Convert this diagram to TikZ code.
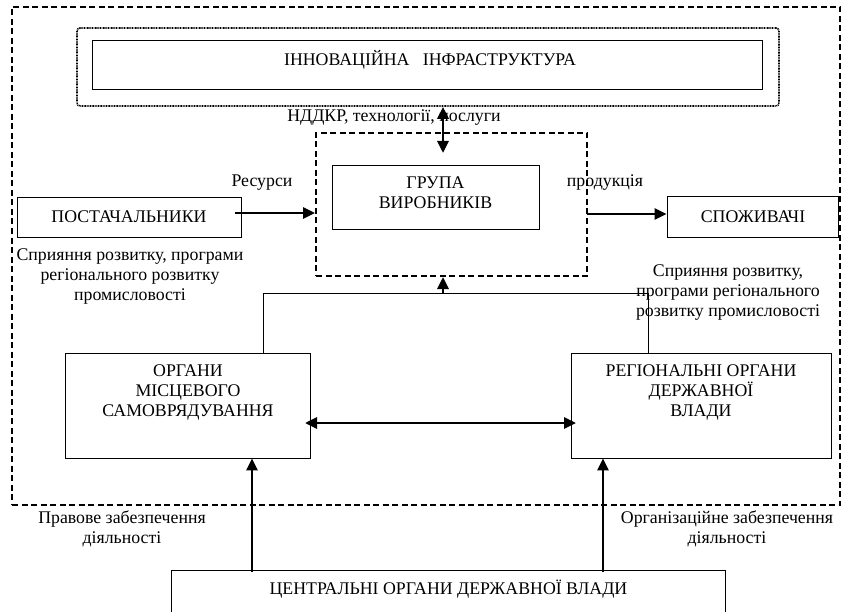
\documentclass[tikz,border=0pt]{standalone}
\usepackage{fontspec}
\setmainfont{Liberation Serif}
\usetikzlibrary{arrows.meta}
\begin{document}
\begin{tikzpicture}[x=1pt,y=-1pt,
  box/.style={draw, line width=0.9pt, inner sep=0pt},
  dashbox/.style={draw, line width=2pt, dash pattern=on 6pt off 3.5pt, inner sep=0pt},
  dotbox/.style={draw, line width=1.6pt, dash pattern=on 0.9pt off 0.7pt, rounded corners=3pt, inner sep=0pt},
  txt/.style={font=\fontsize{17.8}{20}\selectfont, align=center, inner sep=0pt},
  flow/.style={line width=2.8pt, -{Triangle[length=12pt,width=11pt]}},
  dflow/.style={line width=2.8pt, {Triangle[length=12pt,width=11pt]}-{Triangle[length=12pt,width=11pt]}},
  link/.style={line width=0.9pt}]
\useasboundingbox (0,0) rectangle (842,612);
\clip (0,0) rectangle (842,612);
% outer dashed frame
\node (outer) [dashbox, minimum width=828pt, minimum height=498pt] at (426,256) {};
% innovation infrastructure
\node (infraout) [dotbox, minimum width=702pt, minimum height=78pt] at (428,67) {};
\node (infra) [box, minimum width=670pt, minimum height=49pt] at (427,64.5) {};
\node (tinfra) [txt] at (430,60) {ІННОВАЦІЙНА\ \ \ ІНФРАСТРУКТУРА};
% producers group
\node (grpout) [dashbox, minimum width=271pt, minimum height=143pt] at (451.5,204.5) {};
\node (grp) [box, minimum width=207pt, minimum height=64pt] at (435.5,197) {};
\node (tgrp) [txt] at (435.5,193) {ГРУПА\\ВИРОБНИКІВ};
% suppliers, consumers
\node (post) [box, minimum width=224pt, minimum height=40pt] at (129,217) {};
\node (tpost) [txt] at (129,217) {ПОСТАЧАЛЬНИКИ};
\node (spoz) [box, minimum width=171pt, minimum height=41pt] at (752.5,216.5) {};
\node (tspoz) [txt] at (753,217) {СПОЖИВАЧІ};
% authorities
\node (mis) [box, minimum width=245pt, minimum height=105pt] at (187.5,405.5) {};
\node (tmis) [txt] at (188,392) {ОРГАНИ\\МІСЦЕВОГО\\САМОВРЯДУВАННЯ};
\node (reg) [box, minimum width=260pt, minimum height=105pt] at (701,405.5) {};
\node (treg) [txt] at (701,392) {РЕГІОНАЛЬНІ ОРГАНИ\\ДЕРЖАВНОЇ\\ВЛАДИ};
\node (cen) [box, minimum width=554pt, minimum height=80pt] at (448.5,610) {};
\node (tcen) [txt] at (448.5,589) {ЦЕНТРАЛЬНІ ОРГАНИ ДЕРЖАВНОЇ ВЛАДИ};
% labels
\node (lnd) [txt] at (394,118) {НДДКР, технології, послуги};
\node (lres) [txt] at (262,183) {Ресурси};
\node (lprod) [txt] at (605,183) {продукція};
\node (lleft) [txt] at (130,277) {Сприяння розвитку, програми\\регіонального розвитку\\промисловості};
\node (lright) [txt] at (728,293) {Сприяння розвитку,\\програми регіонального\\розвитку промисловості};
\node (lprav) [txt] at (122,529) {Правове забезпечення\\діяльності};
\node (lorg) [txt] at (727,529) {Організаційне забезпечення\\діяльності};
% helper coordinates
\coordinate (ndx) at (443,153);
\coordinate (resA) at (235,213);
\coordinate (prodA) at (587,214);
\coordinate (hA) at (305,423);
\coordinate (hB) at (576,423);
\coordinate (j1) at (263,293);
\coordinate (j2) at (648,293);
\coordinate (jm) at (443,293);
\coordinate (vA) at (252,572);
\coordinate (vB) at (603,572);
% connectors
\draw[dflow] (infraout.south -| ndx) -- (ndx);
\draw[flow] (resA) -- (grpout.west |- resA);
\draw[flow] (prodA) -- (spoz.west |- prodA);
\draw[dflow] (hA) -- (hB);
\draw[link] (mis.north -| j1) -- (j1) -- (j2) -- (reg.north -| j2);
\draw[flow] (jm) -- (grpout.south -| jm);
\draw[flow] (vA) -- (mis.south -| vA);
\draw[flow] (vB) -- (reg.south -| vB);
\end{tikzpicture}
\end{document}
